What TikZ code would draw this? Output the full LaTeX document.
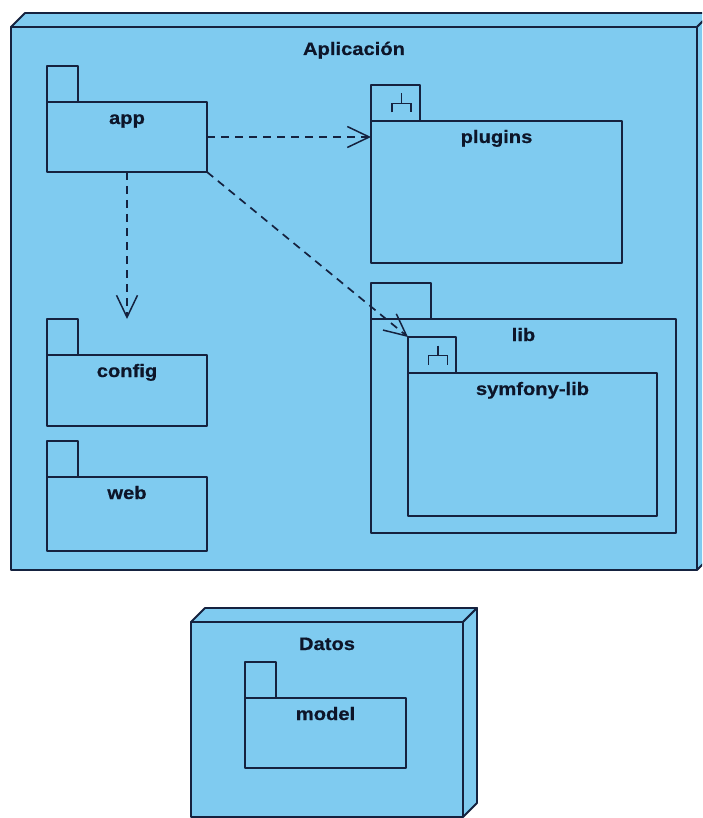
\documentclass[tikz,border=0pt]{standalone}
\usepackage{fontspec}
\newfontfamily\umlfont[FakeStretch=1.12,FakeBold=0.6]{Liberation Sans}
\usetikzlibrary{arrows.meta,positioning}
\definecolor{umlfill}{HTML}{7FCBF0}
\definecolor{umlline}{HTML}{15223F}
\definecolor{umltext}{HTML}{0D1529}

\begin{document}
\begin{tikzpicture}[
  x=1pt, y=-1pt,
  every node/.style={inner sep=0pt, outer sep=0pt},
  face/.style={draw=umlline, fill=umlfill, line width=1.8pt, line join=round},
  nodebox/.style={face, anchor=north west},
  pkgbody/.style={face, anchor=north west},
  pkgtab/.style={face, anchor=south west, minimum height=36pt},
  pkgname/.style={anchor=base, text=umltext, font=\umlfont\bfseries\fontsize{18}{20}\selectfont},
  dep/.style={draw=umlline, line width=1.7pt, dash pattern=on 8pt off 6pt,
    -{Straight Barb[length=22pt, width=21pt, line width=1.5pt]}},
  subsys/.pic={\draw[umlline, line width=1.4pt] (0,-9.5) -- (0,0.5)
    (-9.5,9.5) -- (-9.5,0.5) -- (9.5,0.5) -- (9.5,9.5);}
]
\useasboundingbox (0,0) rectangle (702,818);
\clip (0,0) rectangle (702,818);

% nodes
\node[nodebox, minimum width=686pt, minimum height=543pt] (aplicacion) at (11,27) {};
\filldraw[face] (aplicacion.north west) -- ++(14,-14) -- ([shift={(14,-14)}]aplicacion.north east) -- (aplicacion.north east) -- cycle;
\filldraw[face] (aplicacion.north east) -- ++(14,-14) -- ([shift={(14,-14)}]aplicacion.south east) -- (aplicacion.south east) -- cycle;
\node[pkgname] (aplicacion-name) at ([yshift=-28pt]aplicacion.north) {Aplicación};

\node[nodebox, minimum width=272pt, minimum height=195pt] (datos) at (191,622) {};
\filldraw[face] (datos.north west) -- ++(14,-14) -- ([shift={(14,-14)}]datos.north east) -- (datos.north east) -- cycle;
\filldraw[face] (datos.north east) -- ++(14,-14) -- ([shift={(14,-14)}]datos.south east) -- (datos.south east) -- cycle;
\node[pkgname] (datos-name) at ([yshift=-28pt]datos.north) {Datos};

% packages
\node[pkgbody, minimum width=160pt, minimum height=70pt] (app) at (47,102) {};
\node[pkgtab, minimum width=31pt] (app-tab) at (app.north west) {};
\node[pkgname] (app-name) at ([yshift=-22pt]app.north) {app};

\node[pkgbody, minimum width=251pt, minimum height=142pt] (plugins) at (371,121) {};
\node[pkgtab, minimum width=49pt] (plugins-tab) at (plugins.north west) {};
\node[pkgname] (plugins-name) at ([yshift=-22pt]plugins.north) {plugins};
\pic at ([xshift=6pt]plugins-tab.center) {subsys};

\node[pkgbody, minimum width=305pt, minimum height=214pt] (lib) at (371,319) {};
\node[pkgtab, minimum width=60pt] (lib-tab) at (lib.north west) {};
\node[pkgname] (lib-name) at ([yshift=-22pt]lib.north) {lib};

\node[pkgbody, minimum width=249pt, minimum height=143pt] (symfony) at (408,373) {};
\node[pkgtab, minimum width=48pt] (symfony-tab) at (symfony.north west) {};
\node[pkgname] (symfony-name) at ([yshift=-22pt]symfony.north) {symfony-lib};
\pic at ([xshift=6pt]symfony-tab.center) {subsys};

\node[pkgbody, minimum width=160pt, minimum height=71pt] (config) at (47,355) {};
\node[pkgtab, minimum width=31pt] (config-tab) at (config.north west) {};
\node[pkgname] (config-name) at ([yshift=-22pt]config.north) {config};

\node[pkgbody, minimum width=160pt, minimum height=74pt] (web) at (47,477) {};
\node[pkgtab, minimum width=31pt] (web-tab) at (web.north west) {};
\node[pkgname] (web-name) at ([yshift=-22pt]web.north) {web};

\node[pkgbody, minimum width=161pt, minimum height=70pt] (model) at (245,698) {};
\node[pkgtab, minimum width=31pt] (model-tab) at (model.north west) {};
\node[pkgname] (model-name) at ([yshift=-22pt]model.north) {model};

% dependencies
\draw[dep] (app.east) -- (app.east -| plugins.west);
\draw[dep] (app.south) -- (app.south |- config-tab.north);
\draw[dep] (app.south east) -- (symfony-tab.north west);
\end{tikzpicture}
\end{document}
